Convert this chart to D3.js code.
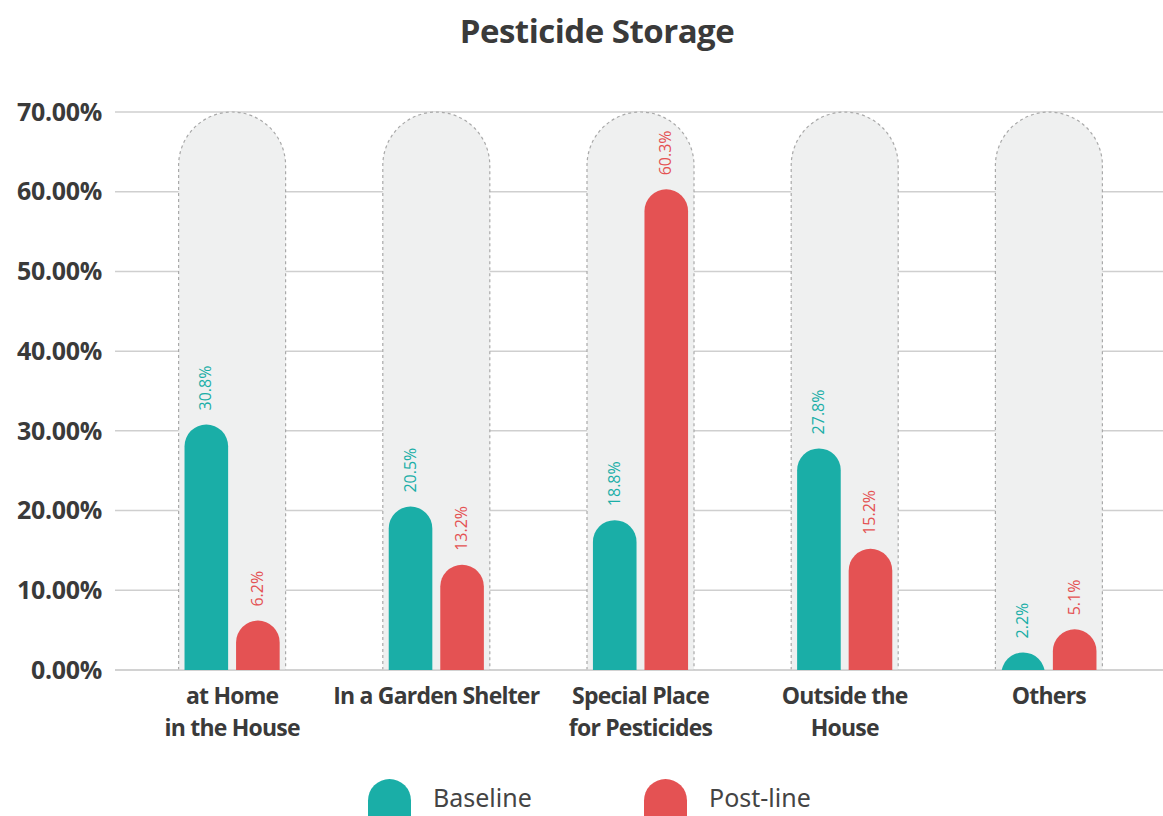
<!doctype html>
<html>
<meta content="text/html;charset=utf-8" http-equiv="Content-Type">
<style>
    body { margin: 0; background: #fff; }
    svg { display: block; }
    .tick-label { font-family: "Open Sans", sans-serif; font-weight: 700; font-size: 25px; fill: #3a3a3a; letter-spacing: -0.3px; }
    .cat-label { font-family: "Open Sans", sans-serif; font-weight: 700; font-size: 23px; fill: #3a3a3a; letter-spacing: -0.8px; }
    .val-label { font-family: "Open Sans", sans-serif; font-size: 16px; }
    .legend-label { font-family: "Noto Sans", sans-serif; font-size: 25px; fill: #444; }
</style>
<head>
    <title>Pesticide Storage</title>
    <script src="https://d3js.org/d3.v7.min.js" charset="utf-8"></script>
</head>
<body>
<div id="chartArea"></div>
<script>
    // data
    var categories = [["at Home", "in the House"], ["In a Garden Shelter"], ["Special Place", "for Pesticides"], ["Outside the", "House"], ["Others"]];
    var seriesNames = ["Baseline", "Post-line"];
    var baseline = [30.8, 20.5, 18.8, 27.8, 2.2];
    var postline = [6.2, 13.2, 60.3, 15.2, 5.1];
    var yTicks = [0, 10, 20, 30, 40, 50, 60, 70];

    var colors = { "Baseline": "#1aaea7", "Post-line": "#e45253" };

    var width = 1163, height = 816;
    var svg = d3.select("#chartArea").append("svg").attr("width", width).attr("height", height);

    var y = d3.scaleLinear().domain([0, 70]).range([670, 112]);
    var x = d3.scaleBand().domain(d3.range(categories.length)).range([130, 1151])
        .paddingInner(0.476).paddingOuter(0.238);
    var xs = d3.scaleBand().domain(seriesNames).range([0, x.bandwidth()])
        .paddingInner(0.154).paddingOuter(0.115);

    // title
    svg.append("text").attr("x", 597).attr("y", 43).attr("text-anchor", "middle")
        .style("font-family", "Open Sans, sans-serif").style("font-weight", 700)
        .style("font-size", "33px").style("letter-spacing", "-0.5px").style("fill", "#3a3a3a")
        .text("Pesticide Storage");

    // gridlines + y labels
    svg.append("g").selectAll("line").data(yTicks).enter().append("line")
        .attr("x1", 115).attr("x2", width)
        .attr("y1", function (d) { return y(d); }).attr("y2", function (d) { return y(d); })
        .style("stroke", "#cfcfcf").style("stroke-width", "1.5px");
    svg.append("g").selectAll("text").data(yTicks).enter().append("text")
        .attr("class", "tick-label")
        .attr("x", 102).attr("y", function (d) { return y(d); }).attr("dy", "0.35em")
        .attr("text-anchor", "end")
        .text(function (d) { return d3.format(".2f")(d) + "%"; });

    // background capsules
    var capR = x.bandwidth() / 2;
    svg.append("g").selectAll("path").data(categories).enter().append("path")
        .attr("d", function (d, i) {
            var x0 = x(i), x1 = x(i) + x.bandwidth();
            return "M" + x0 + "," + y(0) + "V" + (y(70) + capR) +
                "A" + capR + "," + capR + " 0 0 1 " + x1 + "," + (y(70) + capR) + "V" + y(0);
        })
        .style("fill", "#eff0f0").style("stroke", "#a9a9a9").style("stroke-width", "1.2px")
        .style("stroke-dasharray", "3,3");

    svg.append("line").attr("x1", 115).attr("x2", width).attr("y1", y(0)).attr("y2", y(0))
        .style("stroke", "#cfcfcf").style("stroke-width", "1.5px");

    // clip at baseline
    svg.append("clipPath").attr("id", "plotClip").append("rect")
        .attr("x", 0).attr("y", 0).attr("width", width).attr("height", y(0));

    var rows = [];
    categories.forEach(function (c, i) {
        rows.push({ cat: i, series: "Baseline", value: baseline[i] });
        rows.push({ cat: i, series: "Post-line", value: postline[i] });
    });

    var r = xs.bandwidth() / 2;
    var bars = svg.append("g").attr("clip-path", "url(#plotClip)");
    bars.selectAll("rect").data(rows).enter().append("rect")
        .attr("x", function (d) { return x(d.cat) + xs(d.series); })
        .attr("width", xs.bandwidth())
        .attr("y", function (d) { return y(d.value); })
        .attr("height", function (d) { return Math.max(y(0) - y(d.value) + r, 2 * r); })
        .attr("rx", r).attr("ry", r)
        .style("fill", function (d) { return colors[d.series]; });

    // value labels
    svg.append("g").selectAll("text").data(rows).enter().append("text")
        .attr("class", "val-label")
        .attr("transform", function (d) {
            var cx = x(d.cat) + xs(d.series) + xs.bandwidth() / 2;
            return "translate(" + (cx + 5) + "," + (y(d.value) - 14) + ") rotate(-90)";
        })
        .style("fill", function (d) { return colors[d.series]; })
        .text(function (d) { return d3.format(".1f")(d.value) + "%"; });

    // category labels
    var cats = svg.append("g").selectAll("text").data(categories).enter().append("text")
        .attr("class", "cat-label").attr("text-anchor", "middle")
        .attr("x", function (d, i) { return x(i) + x.bandwidth() / 2; })
        .attr("y", 704);
    cats.selectAll("tspan").data(function (d) { return d; }).enter().append("tspan")
        .attr("x", function () { return d3.select(this.parentNode).attr("x"); })
        .attr("dy", function (d, j) { return j === 0 ? 0 : 32; })
        .text(function (d) { return d; });

    // legend
    var legendX = [368, 644];
    var lg = svg.append("g").selectAll("g").data(seriesNames).enter().append("g")
        .attr("transform", function (d, i) { return "translate(" + legendX[i] + ",0)"; });
    lg.append("rect").attr("x", 0).attr("y", 779).attr("width", 43).attr("height", 60)
        .attr("rx", 21.5).attr("ry", 21.5)
        .style("fill", function (d) { return colors[d]; });
    lg.append("text").attr("class", "legend-label").attr("x", 65).attr("y", 807)
        .text(function (d) { return d; });
</script>
</body>
</html>
